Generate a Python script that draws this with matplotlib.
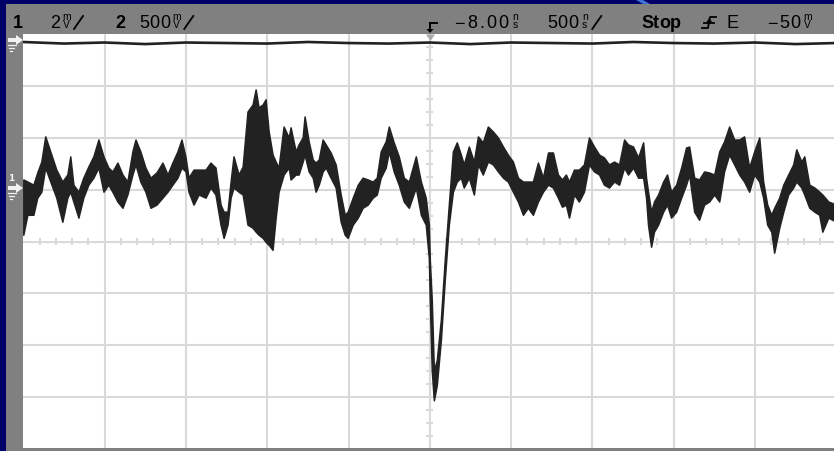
import matplotlib
matplotlib.use("Agg")
import matplotlib.pyplot as plt
from matplotlib.patches import Rectangle, Polygon
from matplotlib.lines import Line2D
import numpy as np

W, H = 834, 451

# channel 1, peak-detect envelope: time (us, screen-relative), max / min level (mV)
t_us = [
    -2.500, -2.475, -2.438, -2.414, -2.389, -2.365, -2.334, -2.297, -2.260, -2.229,
    -2.211, -2.192, -2.161, -2.131, -2.100, -2.069, -2.038, -2.007, -1.977, -1.952,
    -1.921, -1.890, -1.860, -1.829, -1.810, -1.780, -1.749, -1.718, -1.681, -1.644,
    -1.613, -1.583, -1.552, -1.527, -1.502, -1.484, -1.453, -1.422, -1.379, -1.349,
    -1.318, -1.287, -1.268, -1.244, -1.225, -1.207, -1.176, -1.151, -1.121, -1.090,
    -1.071, -1.053, -1.028, -1.010, -0.991, -0.967, -0.948, -0.930, -0.899, -0.868,
    -0.856, -0.825, -0.807, -0.782, -0.770, -0.745, -0.720, -0.702, -0.683, -0.659,
    -0.640, -0.610, -0.579, -0.548, -0.523, -0.505, -0.474, -0.443, -0.413, -0.382,
    -0.351, -0.326, -0.302, -0.271, -0.252, -0.222, -0.191, -0.160, -0.129, -0.086,
    -0.055, -0.025, -0.006, 0.000, 0.012, 0.025, 0.043, 0.068, 0.092, 0.117,
    0.142, 0.166, 0.191, 0.209, 0.240, 0.271, 0.296, 0.326, 0.357, 0.388,
    0.419, 0.450, 0.480, 0.511, 0.542, 0.573, 0.603, 0.634, 0.665, 0.696,
    0.727, 0.757, 0.788, 0.813, 0.837, 0.856, 0.887, 0.917, 0.948, 0.979,
    1.010, 1.041, 1.071, 1.102, 1.133, 1.164, 1.195, 1.219, 1.250, 1.281,
    1.312, 1.330, 1.342, 1.361, 1.379, 1.404, 1.435, 1.459, 1.484, 1.515,
    1.546, 1.576, 1.595, 1.626, 1.656, 1.687, 1.718, 1.749, 1.780, 1.810,
    1.841, 1.872, 1.903, 1.933, 1.964, 1.995, 2.026, 2.050, 2.075, 2.100,
    2.118, 2.149, 2.174, 2.204, 2.235, 2.254, 2.285, 2.303, 2.334, 2.365,
    2.395, 2.414, 2.451, 2.500,
]
ch1_hi_mv = [
    0.39, 0.31, 0.19, 0.66, 1.08, 2.05, 1.47, 0.77, 0.31, 0.58,
    1.28, 0.19, -0.08, 0.46, 0.89, 1.28, 1.93, 1.28, 0.85, 0.70,
    1.04, 0.58, 0.31, 1.47, 1.93, 1.47, 0.85, 0.46, 0.66, 1.04,
    0.58, 1.04, 1.47, 1.93, 1.24, 0.46, 0.77, 0.77, 0.77, 1.04,
    0.85, -0.58, -0.85, -0.85, 0.31, 1.28, 0.58, 0.89, 3.01, 3.28,
    3.86, 3.17, 3.28, 3.48, 2.24, 1.35, 1.08, 0.85, 2.43, 2.01,
    2.40, 1.47, 1.74, 2.01, 2.82, 1.86, 1.16, 1.04, 1.16, 1.93,
    1.74, 1.43, 0.97, -0.19, -0.97, -0.85, -0.31, 0.19, 0.46, 0.39,
    0.31, 0.46, 1.47, 1.86, 2.43, 1.82, 1.28, 0.46, 0.31, 1.28,
    0.31, -0.31, -1.35, -2.71, -4.25, -6.96, -6.57, -5.02, -2.71, -0.58,
    1.47, 1.82, 1.35, 0.97, 1.66, 1.08, 2.05, 1.82, 2.43, 2.24,
    2.01, 1.66, 1.35, 1.08, 0.46, 0.31, 0.31, 0.31, 1.04, 0.46,
    1.43, 1.43, 0.58, 0.39, 0.58, 0.31, 0.77, 0.77, 0.97, 2.01,
    1.66, 1.35, 1.24, 0.97, 1.08, 0.97, 1.93, 1.74, 1.66, 1.24,
    1.82, 0.46, -0.08, -0.85, -0.46, -0.19, 0.31, 0.58, -0.08, 0.19,
    0.85, 1.62, 1.66, 0.46, 0.39, 0.70, 0.66, 0.58, 1.47, 1.86,
    2.43, 1.93, 1.93, 2.05, 0.85, 1.47, 2.01, 0.31, -0.58, -0.97,
    -0.70, -0.31, 0.19, 0.58, 0.97, 1.55, 1.08, 1.28, 0.19, 0.08,
    -0.08, -0.19, -0.46, -0.58,
]
ch1_lo_mv = [
    -1.74, -0.97, -0.97, -0.31, -0.08, 0.85, 0.31, -0.31, -1.24, -0.31,
    -0.08, -0.46, -1.08, -0.31, 0.19, 0.46, 0.85, -0.08, 0.19, -0.08,
    -0.46, -0.70, -0.19, 0.58, 0.97, 0.31, -0.08, -0.70, -0.58, -0.31,
    -0.08, 0.19, 0.46, 0.85, 0.70, -0.08, -0.58, -0.19, -0.31, 0.08,
    -0.19, -1.35, -1.86, -1.35, -0.31, 0.08, -0.08, -0.19, -1.35, -1.47,
    -1.62, -1.74, -1.86, -2.01, -2.13, -2.32, -1.08, -0.08, 0.58, 0.85,
    0.39, 0.58, 0.58, 1.08, 1.35, 0.70, 0.46, -0.08, 0.19, 0.70,
    0.85, 0.46, 0.08, -1.24, -1.74, -1.86, -1.35, -1.08, -0.70, -0.58,
    -0.31, -0.19, 0.46, 0.85, 1.47, 0.70, 0.19, -0.46, -0.70, 0.08,
    -0.97, -1.35, -2.63, -4.25, -6.96, -8.12, -7.54, -5.80, -3.48, -1.35,
    -0.08, 0.31, 0.46, 0.08, 0.46, -0.19, 0.97, 0.58, 1.08, 0.97,
    0.70, 0.46, 0.31, -0.08, -0.46, -0.97, -0.70, -0.97, -0.46, -0.08,
    0.19, 0.08, -0.31, -0.66, -0.58, -1.08, -0.19, -0.46, -0.08, 0.97,
    0.70, 0.58, 0.19, 0.08, 0.31, 0.19, 0.85, 0.58, 0.85, 0.46,
    0.46, -0.31, -1.35, -2.20, -1.62, -1.35, -0.85, -0.58, -1.08, -0.85,
    -0.31, 0.19, 0.58, -0.85, -1.16, -0.58, -0.46, -0.19, -0.46, 0.70,
    1.35, 0.97, 0.58, 0.31, -0.08, 0.58, 0.31, -0.31, -1.35, -1.62,
    -2.43, -1.47, -0.85, -0.19, 0.08, 0.31, 0.08, -0.19, -0.70, -0.85,
    -0.97, -1.62, -1.08, -1.24,
]

# channel 2, nearly flat line at its ground reference (mV)
ch2_t_us = [-2.50, -2.25, -2.00, -1.75, -1.50, -1.25, -1.00, -0.75, -0.50, -0.25, 0.00,
            0.25, 0.50, 0.75, 1.00, 1.25, 1.50, 1.75, 2.00, 2.25, 2.50]
ch2_mv = [10, -5, 5, -10, 5, 0, -5, 10, 0, -5, 5,
          -10, 5, 0, -5, 10, 0, -5, 5, -10, 0]

CH1_MV_PER_DIV = 2
CH2_MV_PER_DIV = 500
US_PER_DIV = 0.5

NAVY = "#000068"
GRAY = "#808080"
GRID = "#d9d9d9"
TRACE = "#222222"
WHITE = "#f2f2f2"


def fx(x):
    return x / W


def fy(y):
    return 1 - y / H


fig = plt.figure(figsize=(W / 100, H / 100), dpi=100)
fig.set_facecolor(NAVY)
renderer = fig.canvas.get_renderer()

# frame: gray header band and left strip
fig.patches.append(Rectangle((fx(6), fy(35)), 1, (35 - 4) / H, transform=fig.transFigure,
                             facecolor=GRAY, edgecolor="none", zorder=-1))
fig.patches.append(Rectangle((fx(6), 0), (23 - 6) / W, fy(4), transform=fig.transFigure,
                             facecolor=GRAY, edgecolor="none", zorder=-1))
# light swoosh in the top band
fig.patches.append(Polygon([(fx(636), 1), (fx(643), 1), (fx(650), fy(4)), (fx(643), fy(4))],
                           closed=True, transform=fig.transFigure,
                           facecolor="#3d6fd6", edgecolor="none", zorder=-1))

# graticule
ax = fig.add_axes([fx(23.3), fy(449.1), (836.3 - 23.3) / W, (449.1 - 33.9) / H])
ax.set_facecolor("white")
ax.set_xlim(-5 * US_PER_DIV, 5 * US_PER_DIV)
ax.set_ylim(-2 - 4 * CH1_MV_PER_DIV, -2 + 4 * CH1_MV_PER_DIV)
ax.set_xticks([])
ax.set_yticks([])
for s in ax.spines.values():
    s.set_visible(False)

for t in np.arange(-4, 5) * US_PER_DIV:
    ax.axvline(t, color=GRID, lw=1.5, zorder=1)
for v in -2 + np.arange(-3, 4) * CH1_MV_PER_DIV:
    ax.axhline(v, color=GRID, lw=1.5, zorder=1)

x_minor = [k * US_PER_DIV / 5 for k in range(-24, 25) if k % 5]
y_minor = [-2 + k * CH1_MV_PER_DIV / 4 for k in range(-15, 16) if k % 4]
ax.vlines(x_minor, -2 - 0.15, -2 + 0.15, color=GRID, lw=1.5, zorder=1)
ax.hlines(y_minor, -0.021, 0.021, color=GRID, lw=1.5, zorder=1)

# channel 1 trace
ax.fill_between(t_us, ch1_lo_mv, ch1_hi_mv, facecolor=TRACE, edgecolor=TRACE,
                lw=1.1, zorder=3)

# channel 2 trace on its own scale
ax2 = ax.twinx()
ax2.set_ylim(-3912, 88)
ax2.axis("off")
ax2.plot(ch2_t_us, ch2_mv, color=TRACE, lw=1.9, zorder=3)

# bottom gray edge over the graticule
fig.patches.append(Rectangle((fx(6), 0), 1, 3.3 / H, transform=fig.transFigure,
                             facecolor=GRAY, edgecolor="none", zorder=10))

# trigger position marker at top of graticule
fig.patches.append(Polygon([(fx(426), fy(34.5)), (fx(435), fy(34.5)), (fx(430.5), fy(41))],
                           closed=True, transform=fig.transFigure,
                           facecolor="#a8a8a8", edgecolor="none", zorder=10))


# ground reference markers on the left strip
def ground_marker(yc, label=None):
    arrow = [(8, yc - 2), (16, yc - 2), (16, yc - 5), (23, yc), (16, yc + 5),
             (16, yc + 2), (8, yc + 2)]
    fig.patches.append(Polygon([(fx(a), fy(b)) for a, b in arrow], closed=True,
                               transform=fig.transFigure, facecolor=WHITE,
                               edgecolor="none", zorder=11))
    for i, (x0, x1) in enumerate([(8, 16), (9, 14), (10, 12)]):
        yy = yc + 5 + 3 * i
        fig.add_artist(Line2D([fx(x0), fx(x1)], [fy(yy), fy(yy)], color=WHITE,
                              lw=0.9, transform=fig.transFigure, zorder=11))
    if label:
        fig.text(fx(11), fy(yc - 7), label, color=WHITE, fontsize=6.5,
                 ha="center", va="baseline", fontweight="bold", zorder=11)


ground_marker(188, "1")
ground_marker(40)

# header readouts
BASE = fy(28.5)
HDR = dict(family=["Liberation Sans", "DejaVu Sans"], color="black", va="baseline")
SIZE = 13


def chars(x0, s, track=0.0, bold=False):
    # place glyphs one by one with extra tracking; returns the right edge in pixels
    x = x0
    for c in s:
        t = fig.text(fx(x), BASE, c, fontsize=SIZE,
                     fontweight="bold" if bold else "normal", **HDR)
        x += t.get_window_extent(renderer).width + track
    return x - track


def unit(x, top, bottom):
    # stacked prefix over unit, one small two-line glyph
    fig.text(fx(x + 5.5), BASE, f"{top}\n{bottom}", fontsize=7.5, ha="center",
             multialignment="center", linespacing=0.78, **HDR)
    return x + 11


def slash(x):
    fig.add_artist(Line2D([fx(x), fx(x + 9)], [fy(29), fy(16)], color="black",
                          lw=1.3, transform=fig.transFigure))


def readout(x0, value, top, bottom, track=0.0, per=False):
    end = chars(x0, value, track)
    end = unit(end + 1, top, bottom)
    if per:
        slash(end + 2)


chars(13, "1", bold=True)
readout(50, "2", "m", "V", per=True)
chars(115, "2", bold=True)
readout(139, "500", "m", "V", track=0.5, per=True)
readout(454, "\u22128.00", "n", "s", track=2.3)
readout(547, "500", "n", "s", track=0.5, per=True)
chars(641, "Stop", bold=True)
chars(727, "E")
readout(767, "\u221250", "m", "V", track=1.5)

# trigger delay symbol
for xs, ys in [([437, 430], [23, 23]), ([430, 430], [23, 30])]:
    fig.add_artist(Line2D([fx(v) for v in xs], [fy(v) for v in ys], color="black",
                          lw=1.4, transform=fig.transFigure))
fig.patches.append(Polygon([(fx(426.5), fy(29)), (fx(433.5), fy(29)), (fx(430), fy(33))],
                           closed=True, transform=fig.transFigure,
                           facecolor="black", edgecolor="none"))

# trigger slope symbol
fig.add_artist(Line2D([fx(702), fx(708), fx(710), fx(716)],
                      [fy(28), fy(28), fy(17), fy(17)], color="black", lw=1.3,
                      transform=fig.transFigure))
fig.add_artist(Line2D([fx(704), fx(714)], [fy(22.5), fy(22.5)], color="black", lw=1.3,
                      transform=fig.transFigure))
fig.patches.append(Polygon([(fx(706.5), fy(22)), (fx(712), fy(22)), (fx(709.2), fy(18))],
                           closed=True, transform=fig.transFigure,
                           facecolor="black", edgecolor="none"))

fig.savefig("out.png", dpi=100, facecolor=fig.get_facecolor())
